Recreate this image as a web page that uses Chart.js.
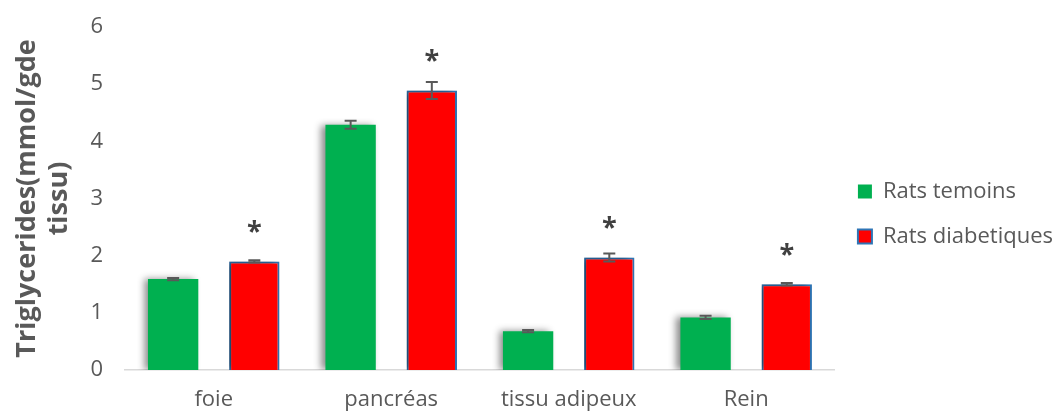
<!DOCTYPE html>
<html lang="fr">
  <head>
    <meta charset="UTF-8" />
    <title>Triglycerides</title>
    <script src="https://cdn.jsdelivr.net/npm/chart.js"></script>
    <style>
      html, body { margin: 0; padding: 0; background: #fff; }
      #wrap { width: 1055px; height: 412px; position: relative; }
    </style>
  </head>
  <body>
    <div id="wrap"><canvas id="chart"></canvas></div>
    <script>
      // data
      const organes = ["foie", "pancréas", "tissu adipeux", "Rein"];
      const temoins = [1.59, 4.29, 0.68, 0.92];
      const diabetiques = [1.9, 4.89, 1.97, 1.5];
      const errTemoins = [0.02, 0.07, 0.02, 0.03];
      const errDiabetiques = [0.02, 0.15, 0.07, 0.02];
      const signif = ["*", "*", "*", "*"];

      const FONT = "'Open Sans', sans-serif";
      const GREY = "#595959";

      // soft shadow behind the bars (like the Excel one)
      const shadowPlugin = {
        id: "shadow",
        beforeDatasetsDraw(chart) {
          const ctx = chart.ctx;
          ctx.save();
          ctx.shadowColor = "rgba(0,0,0,0.45)";
          ctx.shadowBlur = 7;
          ctx.shadowOffsetX = -4;
          ctx.shadowOffsetY = 0;
        },
        afterDatasetsDraw(chart) {
          chart.ctx.restore();
        },
      };

      // error bars + asterisks
      const errorPlugin = {
        id: "errors",
        afterDatasetsDraw(chart) {
          const ctx = chart.ctx;
          const y = chart.scales.y;
          const errs = [errTemoins, errDiabetiques];
          ctx.save();
          ctx.strokeStyle = "#595959";
          ctx.lineWidth = 2;
          chart.data.datasets.forEach((ds, di) => {
            const meta = chart.getDatasetMeta(di);
            meta.data.forEach((bar, i) => {
              const v = ds.data[i];
              const e = errs[di][i];
              const top = y.getPixelForValue(v + e);
              const bot = y.getPixelForValue(v - e);
              const x = bar.x;
              ctx.beginPath();
              ctx.moveTo(x, top);
              ctx.lineTo(x, bot);
              ctx.moveTo(x - 6, top);
              ctx.lineTo(x + 6, top);
              ctx.moveTo(x - 6, bot);
              ctx.lineTo(x + 6, bot);
              ctx.stroke();
            });
          });
          // asterisks over diabetic bars
          const meta = chart.getDatasetMeta(1);
          ctx.fillStyle = "#404040";
          ctx.font = "bold 27px " + FONT;
          ctx.textAlign = "center";
          ctx.textBaseline = "middle";
          meta.data.forEach((bar, i) => {
            ctx.fillText(signif[i], bar.x, bar.y - 29);
          });
          ctx.restore();
        },
      };

      new Chart(document.getElementById("chart"), {
        type: "bar",
        data: {
          labels: organes,
          datasets: [
            {
              label: "Rats temoins",
              data: temoins,
              backgroundColor: "#00B050",
              borderWidth: 0,
              categoryPercentage: 0.915,
              barPercentage: 0.62,
            },
            {
              label: "Rats diabetiques",
              data: diabetiques,
              backgroundColor: "#FF0000",
              borderColor: "#2E75B6",
              borderWidth: 2,
              categoryPercentage: 0.915,
              barPercentage: 0.62,
            },
          ],
        },
        options: {
          responsive: true,
          maintainAspectRatio: false,
          animation: false,
          layout: { padding: { top: 27, right: -8, left: 11, bottom: 0 } },
          plugins: {
            tooltip: { enabled: false },
            legend: {
              position: "right",
              fullSize: false,
              title: {
                display: true,
                text: " ",
                font: { size: 11, lineHeight: 1 },
                padding: 10,
              },
              labels: {
                color: GREY,
                font: { family: FONT, size: 22 },
                boxWidth: 14,
                boxHeight: 14,
                padding: 23,
                useBorderRadius: false,
              },
            },
          },
          scales: {
            x: {
              grid: { display: false, drawTicks: false },
              border: { color: "#d9d9d9", width: 1.5 },
              afterFit(scale) {
                scale.height = 42;
              },
              ticks: {
                color: GREY,
                font: { family: FONT, size: 22, lineHeight: 1 },
                padding: 19,
              },
            },
            y: {
              min: 0,
              max: 6,
              grid: { display: false, drawTicks: false },
              border: { display: false },
              afterFit(scale) {
                scale.paddingTop = 0;
                scale.paddingBottom = 0;
                scale.width = 114;
              },
              ticks: {
                stepSize: 1,
                color: GREY,
                font: { family: FONT, size: 22 },
                padding: 22,
              },
              title: {
                display: true,
                text: ["Triglycerides(mmol/gde", "tissu)"],
                color: GREY,
                font: { family: FONT, size: 27, weight: "bold" },
                lineHeight: 1.4,
                padding: { top: 0, bottom: 0 },
              },
            },
          },
        },
        plugins: [shadowPlugin, errorPlugin],
      });
    </script>
  </body>
</html>
